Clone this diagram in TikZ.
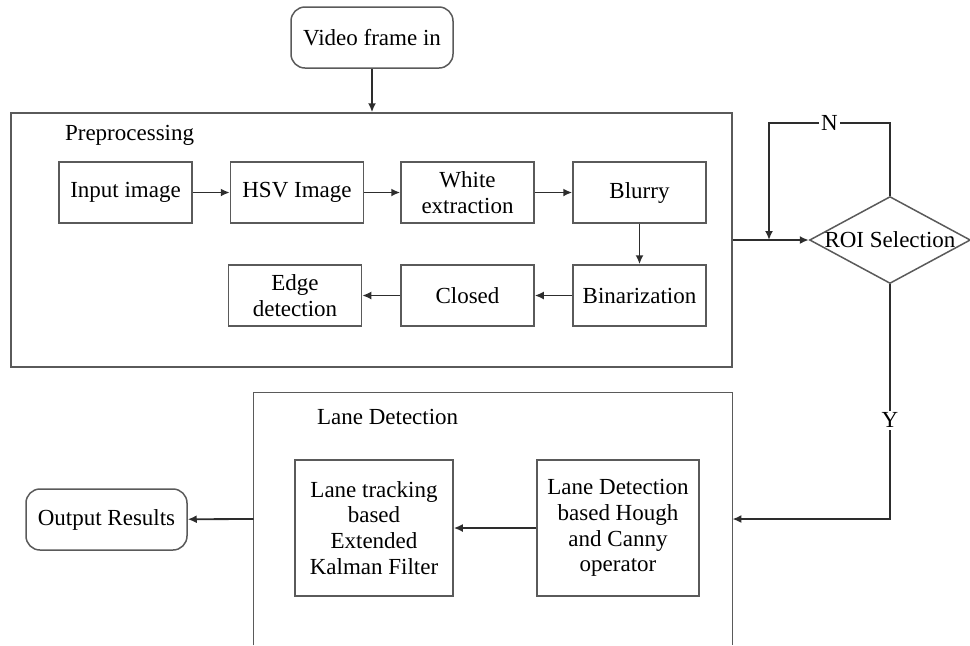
\documentclass[tikz,border=0pt]{standalone}
\usepackage{fontspec}
\setmainfont{Liberation Serif}
\usepackage{tikz}
\usetikzlibrary{shapes.geometric, arrows.meta}
\usepackage{xcolor}

\definecolor{boxgray}{RGB}{90,90,90}
\definecolor{linegray}{RGB}{45,45,45}

\begin{document}
\begin{tikzpicture}[x=0.5pt, y=-0.5pt,
    font=\fontsize{11.5}{12.9}\selectfont,
    >={Latex[length=4.5pt,width=4pt]},
    box/.style={draw=boxgray, line width=0.75pt, minimum width=66.5pt, minimum height=30.5pt, inner sep=0pt, align=center},
    roundbox/.style={box, rounded corners=7pt, minimum width=81pt},
    conn/.style={->, draw=linegray, line width=0.9pt}]
    \useasboundingbox (0,0) rectangle (970,645);

    % outer frames
    \node (prep) at (371.5,240) [draw=boxgray, line width=0.75pt, minimum width=360.5pt, minimum height=127pt] {};
    \node (preplabel) at (58,135) [anchor=west] {Preprocessing};
    \node (lane) at (493,519) [minimum width=239pt, minimum height=126pt] {};
    \draw[draw=boxgray, line width=0.75pt] (lane.south west) |- (lane.north east) -- (lane.south east);
    \node (lanelabel) at (310,417) [anchor=west] {Lane Detection};

    \node (video) at (372,37.5) [roundbox] {Video frame in};
    \node (inp) at (125.5,192.5) [box] {Input image};
    \node (hsv) at (297,192.5) [box] {HSV Image};
    \node (white) at (467.5,192.5) [box] {White\\extraction};
    \node (blur) at (639.5,192.5) [box] {Blurry};
    \node (edge) at (295,295.5) [box] {Edge\\detection};
    \node (closed) at (467.5,295.5) [box] {Closed};
    \node (bin) at (639.5,295.5) [box] {Binarization};
    \node (roi) at (890,240) [diamond, draw=boxgray, line width=0.75pt, inner sep=0pt, shape aspect=1.85] {ROI Selection};
    \node (track) at (374,528) [box, minimum width=79pt, minimum height=68pt] {Lane tracking\\based\\Extended\\Kalman Filter};
    \node (hough) at (618,528) [box, minimum width=81pt, minimum height=68pt] {Lane Detection\\based Hough\\and Canny\\operator};
    \node (out) at (106.5,519.5) [roundbox, minimum width=80.5pt] {Output Results};

    \draw[conn] (video) -- (video |- prep.north);
    \draw[conn] (inp) -- (hsv);
    \draw[conn] (hsv) -- (white);
    \draw[conn] (white) -- (blur);
    \draw[conn] (blur) -- (bin);
    \draw[conn] (bin) -- (closed);
    \draw[conn] (closed) -- (edge);
    \draw[conn] (prep.east) -- (roi.west);
    \coordinate (nturn) at (769,123);
    \draw[conn] (roi.north) |- node[pos=0.75, fill=white, inner sep=1pt] {N} (nturn) -- (nturn |- roi.west);
    \draw[conn] (roi.south) |- node[pos=0.29, fill=white, inner sep=1pt] {Y} (lane.east);
    \draw[conn] (hough) -- (track);
    \draw[conn] (lane.west) -- (out);
\end{tikzpicture}
\end{document}
